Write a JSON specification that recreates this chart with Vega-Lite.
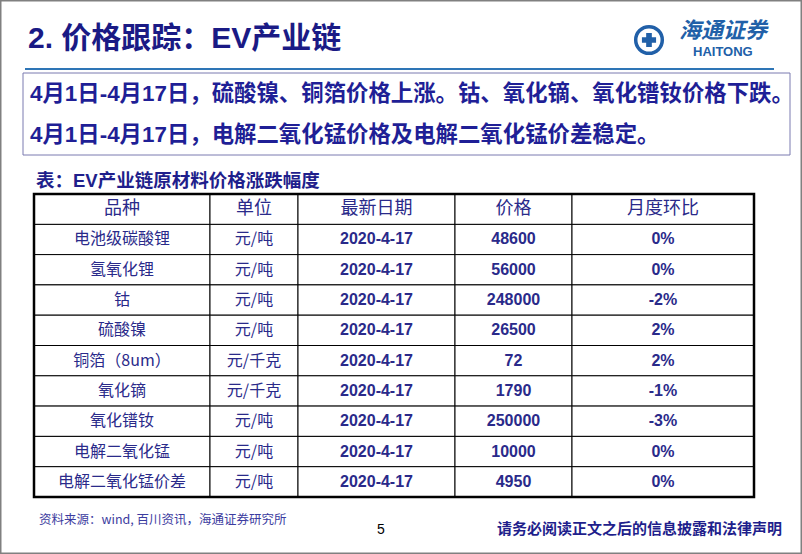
{
  "$schema": "https://vega.github.io/schema/vega-lite/v6.json",
  "width": 802,
  "height": 554,
  "padding": 0,
  "autosize": "none",
  "background": "white",
  "config": {
    "view": {"stroke": "#808080", "strokeWidth": 3},
    "locale": {"number": {"decimal": ".", "thousands": ",", "grouping": [3], "currency": ["", ""], "minus": "-"}}
  },
  "datasets": {
    "prices": [
      {"item": "电池级碳酸锂", "unit": "元/吨", "date": "2020-4-17", "price": 48600, "mom": 0},
      {"item": "氢氧化锂", "unit": "元/吨", "date": "2020-4-17", "price": 56000, "mom": 0},
      {"item": "钴", "unit": "元/吨", "date": "2020-4-17", "price": 248000, "mom": -0.02},
      {"item": "硫酸镍", "unit": "元/吨", "date": "2020-4-17", "price": 26500, "mom": 0.02},
      {"item": "铜箔（8um）", "unit": "元/千克", "date": "2020-4-17", "price": 72, "mom": 0.02},
      {"item": "氧化镝", "unit": "元/千克", "date": "2020-4-17", "price": 1790, "mom": -0.01},
      {"item": "氧化镨钕", "unit": "元/吨", "date": "2020-4-17", "price": 250000, "mom": -0.03},
      {"item": "电解二氧化锰", "unit": "元/吨", "date": "2020-4-17", "price": 10000, "mom": 0},
      {"item": "电解二氧化锰价差", "unit": "元/吨", "date": "2020-4-17", "price": 4950, "mom": 0}
    ]
  },
  "layer": [
    {
      "data": {"values": [{}]},
      "mark": {"type": "rect", "fill": "#2e75b6"},
      "encoding": {
        "x": {"datum": "rule", "type": "nominal", "axis": null, "scale": {"type": "band", "domain": ["rule"], "range": [25, 774], "paddingInner": 0, "paddingOuter": 0}},
        "y": {"datum": "rule", "type": "nominal", "axis": null, "scale": {"type": "band", "domain": ["rule"], "range": [68, 70], "paddingInner": 0, "paddingOuter": 0}}
      }
    },
    {
      "data": {"values": [{}]},
      "mark": {"type": "rect", "filled": false, "stroke": "#7b7bb0", "strokeWidth": 1},
      "encoding": {
        "x": {"datum": "box", "type": "nominal", "axis": null, "scale": {"type": "band", "domain": ["box"], "range": [23, 790], "paddingInner": 0, "paddingOuter": 0}},
        "y": {"datum": "box", "type": "nominal", "axis": null, "scale": {"type": "band", "domain": ["box"], "range": [73, 155], "paddingInner": 0, "paddingOuter": 0}}
      }
    },
    {
      "data": {"values": [{"text": "2. 价格跟踪：EV产业链"}]},
      "mark": {"type": "text", "align": "left", "baseline": "middle", "font": "Liberation Sans, Noto Sans CJK SC", "fontSize": 30, "fontWeight": "bold", "fill": "#1a1a85"},
      "encoding": {
        "text": {"field": "text"},
        "x": {"field": "text", "type": "nominal", "axis": null, "scale": {"type": "point", "range": [28, 28]}},
        "y": {"field": "text", "type": "nominal", "axis": null, "scale": {"type": "point", "range": [39, 39]}}
      }
    },
    {
      "data": {"values": [
        {"text": "4月1日-4月17日，硫酸镍、铜箔价格上涨。钴、氧化镝、氧化镨钕价格下跌。"},
        {"text": "4月1日-4月17日，电解二氧化锰价格及电解二氧化锰价差稳定。"}
      ]},
      "mark": {"type": "text", "align": "left", "baseline": "middle", "font": "Liberation Sans, Noto Sans CJK SC", "fontSize": 22.4, "fontWeight": "bold", "fill": "#1f1f96"},
      "encoding": {
        "text": {"field": "text"},
        "x": {"field": "text", "type": "nominal", "axis": null, "scale": {"type": "point", "range": [30, 30]}},
        "y": {"field": "text", "type": "nominal", "sort": null, "axis": null, "scale": {"type": "point", "range": [94, 135], "padding": 0}}
      }
    },
    {
      "data": {"values": [{"text": "表：EV产业链原材料价格涨跌幅度"}]},
      "mark": {"type": "text", "align": "left", "baseline": "middle", "font": "Liberation Sans, Noto Sans CJK SC", "fontSize": 18.5, "fontWeight": "bold", "fill": "#1f1f8c"},
      "encoding": {
        "text": {"field": "text"},
        "x": {"field": "text", "type": "nominal", "axis": null, "scale": {"type": "point", "range": [36, 36]}},
        "y": {"field": "text", "type": "nominal", "axis": null, "scale": {"type": "point", "range": [181, 181]}}
      }
    },
    {
      "data": {"name": "prices"},
      "layer": [
        {
          "encoding": {"x": {"datum": "品种", "type": "nominal", "axis": null, "scale": {"type": "band", "domain": ["品种"], "range": [34, 210], "paddingInner": 0, "paddingOuter": 0}}},
          "layer": [
            {"mark": {"type": "rect", "fill": "white", "stroke": "#000000", "strokeWidth": 1},
             "encoding": {"y": {"field": "item", "type": "nominal", "axis": null, "scale": {"type": "band", "domain": ["品种", "电池级碳酸锂", "氢氧化锂", "钴", "硫酸镍", "铜箔（8um）", "氧化镝", "氧化镨钕", "电解二氧化锰", "电解二氧化锰价差"], "range": [194, 497], "paddingInner": 0, "paddingOuter": 0}}}},
            {"mark": {"type": "text", "font": "Noto Sans CJK SC", "fontSize": 16, "fill": "#2a2a8a"},
             "encoding": {"y": {"field": "item", "type": "nominal", "axis": null, "scale": {"type": "band", "domain": ["品种", "电池级碳酸锂", "氢氧化锂", "钴", "硫酸镍", "铜箔（8um）", "氧化镝", "氧化镨钕", "电解二氧化锰", "电解二氧化锰价差"], "range": [194, 497], "paddingInner": 0, "paddingOuter": 0}}, "text": {"field": "item"}}},
            {"data": {"values": [{"label": "品种"}]}, "mark": {"type": "rect", "fill": "white", "stroke": "#000000", "strokeWidth": 1},
             "encoding": {"y": {"datum": "品种", "type": "nominal", "axis": null, "scale": {"type": "band", "domain": ["品种", "电池级碳酸锂", "氢氧化锂", "钴", "硫酸镍", "铜箔（8um）", "氧化镝", "氧化镨钕", "电解二氧化锰", "电解二氧化锰价差"], "range": [194, 497], "paddingInner": 0, "paddingOuter": 0}}}},
            {"data": {"values": [{"label": "品种"}]}, "mark": {"type": "text", "font": "Noto Sans CJK SC", "fontSize": 18, "fill": "#2a2a8a"},
             "encoding": {"y": {"datum": "品种", "type": "nominal", "axis": null, "scale": {"type": "band", "domain": ["品种", "电池级碳酸锂", "氢氧化锂", "钴", "硫酸镍", "铜箔（8um）", "氧化镝", "氧化镨钕", "电解二氧化锰", "电解二氧化锰价差"], "range": [194, 497], "paddingInner": 0, "paddingOuter": 0}}, "text": {"field": "label"}}}
          ]
        },
        {
          "encoding": {"x": {"datum": "单位", "type": "nominal", "axis": null, "scale": {"type": "band", "domain": ["单位"], "range": [210, 298], "paddingInner": 0, "paddingOuter": 0}}},
          "layer": [
            {"mark": {"type": "rect", "fill": "white", "stroke": "#000000", "strokeWidth": 1},
             "encoding": {"y": {"field": "item", "type": "nominal", "axis": null, "scale": {"type": "band", "domain": ["品种", "电池级碳酸锂", "氢氧化锂", "钴", "硫酸镍", "铜箔（8um）", "氧化镝", "氧化镨钕", "电解二氧化锰", "电解二氧化锰价差"], "range": [194, 497], "paddingInner": 0, "paddingOuter": 0}}}},
            {"mark": {"type": "text", "font": "Noto Sans CJK SC", "fontSize": 16, "fill": "#2a2a8a"},
             "encoding": {"y": {"field": "item", "type": "nominal", "axis": null, "scale": {"type": "band", "domain": ["品种", "电池级碳酸锂", "氢氧化锂", "钴", "硫酸镍", "铜箔（8um）", "氧化镝", "氧化镨钕", "电解二氧化锰", "电解二氧化锰价差"], "range": [194, 497], "paddingInner": 0, "paddingOuter": 0}}, "text": {"field": "unit"}}},
            {"data": {"values": [{"label": "单位"}]}, "mark": {"type": "rect", "fill": "white", "stroke": "#000000", "strokeWidth": 1},
             "encoding": {"y": {"datum": "品种", "type": "nominal", "axis": null, "scale": {"type": "band", "domain": ["品种", "电池级碳酸锂", "氢氧化锂", "钴", "硫酸镍", "铜箔（8um）", "氧化镝", "氧化镨钕", "电解二氧化锰", "电解二氧化锰价差"], "range": [194, 497], "paddingInner": 0, "paddingOuter": 0}}}},
            {"data": {"values": [{"label": "单位"}]}, "mark": {"type": "text", "font": "Noto Sans CJK SC", "fontSize": 18, "fill": "#2a2a8a"},
             "encoding": {"y": {"datum": "品种", "type": "nominal", "axis": null, "scale": {"type": "band", "domain": ["品种", "电池级碳酸锂", "氢氧化锂", "钴", "硫酸镍", "铜箔（8um）", "氧化镝", "氧化镨钕", "电解二氧化锰", "电解二氧化锰价差"], "range": [194, 497], "paddingInner": 0, "paddingOuter": 0}}, "text": {"field": "label"}}}
          ]
        },
        {
          "encoding": {"x": {"datum": "最新日期", "type": "nominal", "axis": null, "scale": {"type": "band", "domain": ["最新日期"], "range": [298, 455], "paddingInner": 0, "paddingOuter": 0}}},
          "layer": [
            {"mark": {"type": "rect", "fill": "white", "stroke": "#000000", "strokeWidth": 1},
             "encoding": {"y": {"field": "item", "type": "nominal", "axis": null, "scale": {"type": "band", "domain": ["品种", "电池级碳酸锂", "氢氧化锂", "钴", "硫酸镍", "铜箔（8um）", "氧化镝", "氧化镨钕", "电解二氧化锰", "电解二氧化锰价差"], "range": [194, 497], "paddingInner": 0, "paddingOuter": 0}}}},
            {"mark": {"type": "text", "font": "Liberation Sans", "fontWeight": "bold", "fontSize": 16, "fill": "#2a2a8a"},
             "encoding": {"y": {"field": "item", "type": "nominal", "axis": null, "scale": {"type": "band", "domain": ["品种", "电池级碳酸锂", "氢氧化锂", "钴", "硫酸镍", "铜箔（8um）", "氧化镝", "氧化镨钕", "电解二氧化锰", "电解二氧化锰价差"], "range": [194, 497], "paddingInner": 0, "paddingOuter": 0}}, "text": {"field": "date"}}},
            {"data": {"values": [{"label": "最新日期"}]}, "mark": {"type": "rect", "fill": "white", "stroke": "#000000", "strokeWidth": 1},
             "encoding": {"y": {"datum": "品种", "type": "nominal", "axis": null, "scale": {"type": "band", "domain": ["品种", "电池级碳酸锂", "氢氧化锂", "钴", "硫酸镍", "铜箔（8um）", "氧化镝", "氧化镨钕", "电解二氧化锰", "电解二氧化锰价差"], "range": [194, 497], "paddingInner": 0, "paddingOuter": 0}}}},
            {"data": {"values": [{"label": "最新日期"}]}, "mark": {"type": "text", "font": "Noto Sans CJK SC", "fontSize": 18, "fill": "#2a2a8a"},
             "encoding": {"y": {"datum": "品种", "type": "nominal", "axis": null, "scale": {"type": "band", "domain": ["品种", "电池级碳酸锂", "氢氧化锂", "钴", "硫酸镍", "铜箔（8um）", "氧化镝", "氧化镨钕", "电解二氧化锰", "电解二氧化锰价差"], "range": [194, 497], "paddingInner": 0, "paddingOuter": 0}}, "text": {"field": "label"}}}
          ]
        },
        {
          "encoding": {"x": {"datum": "价格", "type": "nominal", "axis": null, "scale": {"type": "band", "domain": ["价格"], "range": [455, 572], "paddingInner": 0, "paddingOuter": 0}}},
          "layer": [
            {"mark": {"type": "rect", "fill": "white", "stroke": "#000000", "strokeWidth": 1},
             "encoding": {"y": {"field": "item", "type": "nominal", "axis": null, "scale": {"type": "band", "domain": ["品种", "电池级碳酸锂", "氢氧化锂", "钴", "硫酸镍", "铜箔（8um）", "氧化镝", "氧化镨钕", "电解二氧化锰", "电解二氧化锰价差"], "range": [194, 497], "paddingInner": 0, "paddingOuter": 0}}}},
            {"mark": {"type": "text", "font": "Liberation Sans", "fontWeight": "bold", "fontSize": 16, "fill": "#2a2a8a"},
             "encoding": {"y": {"field": "item", "type": "nominal", "axis": null, "scale": {"type": "band", "domain": ["品种", "电池级碳酸锂", "氢氧化锂", "钴", "硫酸镍", "铜箔（8um）", "氧化镝", "氧化镨钕", "电解二氧化锰", "电解二氧化锰价差"], "range": [194, 497], "paddingInner": 0, "paddingOuter": 0}}, "text": {"field": "price", "type": "quantitative", "format": "d"}}},
            {"data": {"values": [{"label": "价格"}]}, "mark": {"type": "rect", "fill": "white", "stroke": "#000000", "strokeWidth": 1},
             "encoding": {"y": {"datum": "品种", "type": "nominal", "axis": null, "scale": {"type": "band", "domain": ["品种", "电池级碳酸锂", "氢氧化锂", "钴", "硫酸镍", "铜箔（8um）", "氧化镝", "氧化镨钕", "电解二氧化锰", "电解二氧化锰价差"], "range": [194, 497], "paddingInner": 0, "paddingOuter": 0}}}},
            {"data": {"values": [{"label": "价格"}]}, "mark": {"type": "text", "font": "Noto Sans CJK SC", "fontSize": 18, "fill": "#2a2a8a"},
             "encoding": {"y": {"datum": "品种", "type": "nominal", "axis": null, "scale": {"type": "band", "domain": ["品种", "电池级碳酸锂", "氢氧化锂", "钴", "硫酸镍", "铜箔（8um）", "氧化镝", "氧化镨钕", "电解二氧化锰", "电解二氧化锰价差"], "range": [194, 497], "paddingInner": 0, "paddingOuter": 0}}, "text": {"field": "label"}}}
          ]
        },
        {
          "encoding": {"x": {"datum": "月度环比", "type": "nominal", "axis": null, "scale": {"type": "band", "domain": ["月度环比"], "range": [572, 754], "paddingInner": 0, "paddingOuter": 0}}},
          "layer": [
            {"mark": {"type": "rect", "fill": "white", "stroke": "#000000", "strokeWidth": 1},
             "encoding": {"y": {"field": "item", "type": "nominal", "axis": null, "scale": {"type": "band", "domain": ["品种", "电池级碳酸锂", "氢氧化锂", "钴", "硫酸镍", "铜箔（8um）", "氧化镝", "氧化镨钕", "电解二氧化锰", "电解二氧化锰价差"], "range": [194, 497], "paddingInner": 0, "paddingOuter": 0}}}},
            {"mark": {"type": "text", "font": "Liberation Sans", "fontWeight": "bold", "fontSize": 16, "fill": "#2a2a8a"},
             "encoding": {"y": {"field": "item", "type": "nominal", "axis": null, "scale": {"type": "band", "domain": ["品种", "电池级碳酸锂", "氢氧化锂", "钴", "硫酸镍", "铜箔（8um）", "氧化镝", "氧化镨钕", "电解二氧化锰", "电解二氧化锰价差"], "range": [194, 497], "paddingInner": 0, "paddingOuter": 0}}, "text": {"field": "mom", "type": "quantitative", "format": ".0%"}}},
            {"data": {"values": [{"label": "月度环比"}]}, "mark": {"type": "rect", "fill": "white", "stroke": "#000000", "strokeWidth": 1},
             "encoding": {"y": {"datum": "品种", "type": "nominal", "axis": null, "scale": {"type": "band", "domain": ["品种", "电池级碳酸锂", "氢氧化锂", "钴", "硫酸镍", "铜箔（8um）", "氧化镝", "氧化镨钕", "电解二氧化锰", "电解二氧化锰价差"], "range": [194, 497], "paddingInner": 0, "paddingOuter": 0}}}},
            {"data": {"values": [{"label": "月度环比"}]}, "mark": {"type": "text", "font": "Noto Sans CJK SC", "fontSize": 18, "fill": "#2a2a8a"},
             "encoding": {"y": {"datum": "品种", "type": "nominal", "axis": null, "scale": {"type": "band", "domain": ["品种", "电池级碳酸锂", "氢氧化锂", "钴", "硫酸镍", "铜箔（8um）", "氧化镝", "氧化镨钕", "电解二氧化锰", "电解二氧化锰价差"], "range": [194, 497], "paddingInner": 0, "paddingOuter": 0}}, "text": {"field": "label"}}}
          ]
        }
      ],
      "resolve": {"scale": {"x": "independent"}}
    },
    {
      "data": {"values": [{}]},
      "mark": {"type": "rect", "filled": false, "stroke": "#000000", "strokeWidth": 2.5},
      "encoding": {
        "x": {"datum": "table", "type": "nominal", "axis": null, "scale": {"type": "band", "domain": ["table"], "range": [34, 754], "paddingInner": 0, "paddingOuter": 0}},
        "y": {"datum": "table", "type": "nominal", "axis": null, "scale": {"type": "band", "domain": ["table"], "range": [194, 497], "paddingInner": 0, "paddingOuter": 0}}
      }
    },
    {
      "data": {"values": [{"text": "资料来源：wind, 百川资讯，海通证券研究所"}]},
      "mark": {"type": "text", "align": "left", "baseline": "middle", "font": "Noto Sans CJK SC", "fontSize": 12.5, "fill": "#3c3ca0"},
      "encoding": {
        "text": {"field": "text"},
        "x": {"field": "text", "type": "nominal", "axis": null, "scale": {"type": "point", "range": [39, 39]}},
        "y": {"field": "text", "type": "nominal", "axis": null, "scale": {"type": "point", "range": [520, 520]}}
      }
    },
    {
      "data": {"values": [{"text": "5"}]},
      "mark": {"type": "text", "align": "center", "baseline": "middle", "font": "Liberation Sans", "fontSize": 14, "fill": "#000000"},
      "encoding": {
        "text": {"field": "text"},
        "x": {"field": "text", "type": "nominal", "axis": null, "scale": {"type": "point", "range": [381, 381]}},
        "y": {"field": "text", "type": "nominal", "axis": null, "scale": {"type": "point", "range": [530, 530]}}
      }
    },
    {
      "data": {"values": [{"text": "请务必阅读正文之后的信息披露和法律声明"}]},
      "mark": {"type": "text", "align": "left", "baseline": "middle", "font": "Noto Sans CJK SC", "fontSize": 15, "fontWeight": "bold", "fill": "#1f1f8c"},
      "encoding": {
        "text": {"field": "text"},
        "x": {"field": "text", "type": "nominal", "axis": null, "scale": {"type": "point", "range": [497, 497]}},
        "y": {"field": "text", "type": "nominal", "axis": null, "scale": {"type": "point", "range": [529, 529]}}
      }
    },
    {
      "data": {"values": [{}]},
      "encoding": {
        "x": {"datum": "logo", "type": "nominal", "axis": null, "scale": {"type": "point", "domain": ["logo"], "range": [649, 649]}},
        "y": {"datum": "logo", "type": "nominal", "axis": null, "scale": {"type": "point", "domain": ["logo"], "range": [40, 40]}}
      },
      "layer": [
        {"mark": {"type": "point", "shape": "circle", "size": 707, "filled": false, "stroke": "#2160a8", "strokeWidth": 3.5, "opacity": 1}},
        {"mark": {"type": "point", "shape": "cross", "size": 200, "filled": true, "fill": "#2160a8", "opacity": 1}}
      ]
    },
    {
      "data": {"values": [{"text": "海通证券"}]},
      "mark": {"type": "text", "align": "left", "baseline": "middle", "font": "Noto Sans CJK SC", "fontSize": 22, "fontWeight": "bold", "fontStyle": "italic", "fill": "#2160a8"},
      "encoding": {
        "text": {"field": "text"},
        "x": {"field": "text", "type": "nominal", "axis": null, "scale": {"type": "point", "range": [679, 679]}},
        "y": {"field": "text", "type": "nominal", "axis": null, "scale": {"type": "point", "range": [31, 31]}}
      }
    },
    {
      "data": {"values": [{"text": "HAITONG"}]},
      "mark": {"type": "text", "align": "left", "baseline": "middle", "font": "Liberation Sans", "fontSize": 13, "fontWeight": "bold", "fill": "#2160a8"},
      "encoding": {
        "text": {"field": "text"},
        "x": {"field": "text", "type": "nominal", "axis": null, "scale": {"type": "point", "range": [693, 693]}},
        "y": {"field": "text", "type": "nominal", "axis": null, "scale": {"type": "point", "range": [52, 52]}}
      }
    }
  ],
  "resolve": {"scale": {"x": "independent", "y": "independent"}}
}
